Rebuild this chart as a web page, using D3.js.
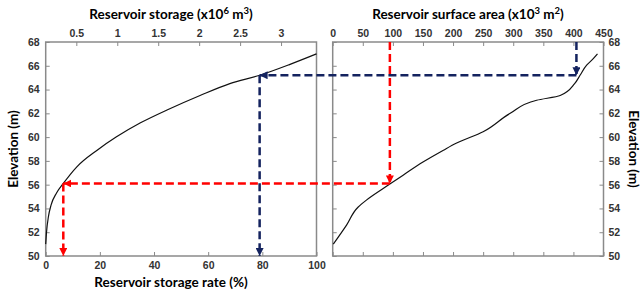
<!DOCTYPE html>
<html><head><meta charset="utf-8">
<script src="https://cdn.jsdelivr.net/npm/d3@7"></script>
<style>
body{margin:0;background:#fff;}
svg{display:block;}
</style></head>
<body><svg id="c" width="643" height="291"></svg>
<script>
// ---- data ----
const ratePct   = [0, 0.3, 1, 2, 4, 6.5, 11.5, 19, 26, 35, 45, 57, 68, 79, 90, 100];
const rateElev  = [51, 52, 53.3, 54.3, 55.3, 56.1, 57.5, 58.9, 60, 61.2, 62.3, 63.5, 64.5, 65.2, 66.1, 67];
const areaVals  = [1, 23, 42, 56, 95, 117, 150, 184, 206, 250, 295, 339, 378, 402, 411, 422, 433, 440];
const areaElev  = [51, 52.6, 54.1, 54.7, 56.05, 56.8, 57.9, 58.9, 59.5, 60.45, 62, 63.1, 63.5, 64.5, 65.2, 66.05, 66.6, 67];
const elevTicks = [50, 52, 54, 56, 58, 60, 62, 64, 66, 68];
const rateTicks = [0, 20, 40, 60, 80, 100];
const storageTicks = [0.5, 1, 1.5, 2, 2.5, 3];
const storageDomain = [0.126, 3.433];
const areaTicks = [0, 50, 100, 150, 200, 250, 300, 350, 400, 450];
// guide lines: [elevation, rate %, area]
const redGuide  = [56.1, 6.5, 95];
const navyGuide = [65.2, 79, 405];

const svg = d3.select("#c");
const L = {x0: 45.7, x1: 316.5}, R = {x0: 332.7, x1: 603.5};
const yTop = 42, yBot = 256;
const y = d3.scaleLinear().domain([50, 68]).range([yBot, yTop]);
const xRate = d3.scaleLinear().domain([0, 100]).range([L.x0, L.x1]);
const xStor = d3.scaleLinear().domain(storageDomain).range([L.x0, L.x1]);
const xArea = d3.scaleLinear().domain([0, 450]).range([R.x0, R.x1]);

const axisCol = "#8a8a8a", tickTxt = "#333";
const tickFont = "bold 10.5px 'Liberation Sans', Arial, sans-serif";
const titleFont = "bold 13.5px Lato, 'Open Sans', sans-serif";

function styleAxis(g){
  g.select(".domain").remove();
  g.selectAll(".tick line").attr("stroke", axisCol).attr("stroke-width", 1);
  g.selectAll(".tick text").attr("fill", tickTxt).style("font", tickFont);
}

// boxes
[L, R].forEach(b => {
  svg.append("rect").attr("x", b.x0).attr("y", yTop).attr("width", b.x1 - b.x0).attr("height", yBot - yTop)
    .attr("fill", "none").attr("stroke", axisCol).attr("stroke-width", 1.5);
});

// left panel axes
svg.append("g").attr("transform", `translate(${L.x0},0)`)
  .call(d3.axisLeft(y).tickValues(elevTicks).tickSize(-4).tickPadding(6).tickFormat(d3.format("d"))).call(styleAxis);
svg.append("g").attr("transform", `translate(0,${yBot})`)
  .call(d3.axisBottom(xRate).tickValues(rateTicks).tickSize(-4).tickPadding(6).tickFormat(d3.format("d"))).call(styleAxis);
svg.append("g").attr("transform", `translate(0,${yTop})`)
  .call(d3.axisTop(xStor).tickValues(storageTicks).tickSize(-4).tickPadding(5).tickFormat(d => d)).call(styleAxis);

// right panel axes
svg.append("g").attr("transform", `translate(${R.x1},0)`)
  .call(d3.axisRight(y).tickValues(elevTicks).tickSize(-4).tickPadding(5).tickFormat(d3.format("d"))).call(styleAxis);
svg.append("g").attr("transform", `translate(${R.x0},0)`)
  .call(d3.axisLeft(y).tickValues(elevTicks).tickSize(-4).tickFormat("")).call(styleAxis);
svg.append("g").attr("transform", `translate(0,${yBot})`)
  .call(d3.axisBottom(xArea).tickValues(areaTicks).tickSize(-4).tickFormat("")).call(styleAxis);
svg.append("g").attr("transform", `translate(0,${yTop})`)
  .call(d3.axisTop(xArea).tickValues(areaTicks).tickSize(-4).tickPadding(5).tickFormat(d3.format("d"))).call(styleAxis);

// curves
svg.append("path").datum(ratePct.map((p, i) => [p, rateElev[i]]))
  .attr("fill", "none").attr("stroke", "#111").attr("stroke-width", 1.2)
  .attr("d", d3.line().x(d => xRate(d[0])).y(d => y(d[1])).curve(d3.curveMonotoneX));
svg.append("path").datum(areaVals.map((a, i) => [a, areaElev[i]]))
  .attr("fill", "none").attr("stroke", "#111").attr("stroke-width", 1.2)
  .attr("d", d3.line().x(d => xArea(d[0])).y(d => y(d[1])).curve(d3.curveMonotoneY));

// arrow markers
const defs = svg.append("defs");
function marker(id, col){
  defs.append("marker").attr("id", id).attr("viewBox", "0 0 10 10").attr("refX", 10).attr("refY", 5)
    .attr("markerUnits", "userSpaceOnUse").attr("markerWidth", 8).attr("markerHeight", 8).attr("orient", "auto")
    .append("path").attr("d", "M0,0 L10,5 L0,10 Z").attr("fill", col).attr("stroke", "none");
}
marker("arRed", "#ff0000");
marker("arNavy", "#14235f");

function guide(gd, col, mk){
  const [e, p, a] = gd;
  const segs = [
    [[xArea(a), y(68)], [xArea(a), y(e)]],
    [[xArea(a), y(e)], [xRate(p), y(e)]],
    [[xRate(p), y(e)], [xRate(p), y(50)]]
  ];
  segs.forEach(s => {
    svg.append("line").attr("x1", s[0][0]).attr("y1", s[0][1]).attr("x2", s[1][0]).attr("y2", s[1][1])
      .attr("stroke", col).attr("stroke-width", 2.5).attr("stroke-dasharray", "8,4")
      .attr("marker-end", `url(#${mk})`);
  });
}
guide(redGuide, "#ff0000", "arRed");
guide(navyGuide, "#14235f", "arNavy");

// titles
function sup(t, s){ t.append("tspan").attr("dy", -5).style("font-size", "9.5px").text(s); }
let t = svg.append("text").attr("x", 171).attr("y", 19).attr("text-anchor", "middle").style("font", titleFont).attr("fill", "#000");
t.append("tspan").text("Reservoir storage (x10");
sup(t, "6");
t.append("tspan").attr("dy", 5).text(" m");
sup(t, "3");
t.append("tspan").attr("dy", 5).text(")");

t = svg.append("text").attr("x", 468).attr("y", 19).attr("text-anchor", "middle").style("font", titleFont).attr("fill", "#000");
t.append("tspan").text("Reservoir surface area (x10");
sup(t, "3");
t.append("tspan").attr("dy", 5).text(" m");
sup(t, "2");
t.append("tspan").attr("dy", 5).text(")");

svg.append("text").attr("x", 171).attr("y", 287).attr("text-anchor", "middle").style("font", titleFont).attr("fill", "#000")
  .text("Reservoir storage rate (%)");
svg.append("text").attr("transform", "translate(18,149) rotate(-90)").attr("text-anchor", "middle").style("font", titleFont).attr("fill", "#000")
  .text("Elevation (m)");
svg.append("text").attr("transform", "translate(629,149) rotate(90)").attr("text-anchor", "middle").style("font", titleFont).attr("fill", "#000")
  .text("Elevation (m)");
</script></body></html>
